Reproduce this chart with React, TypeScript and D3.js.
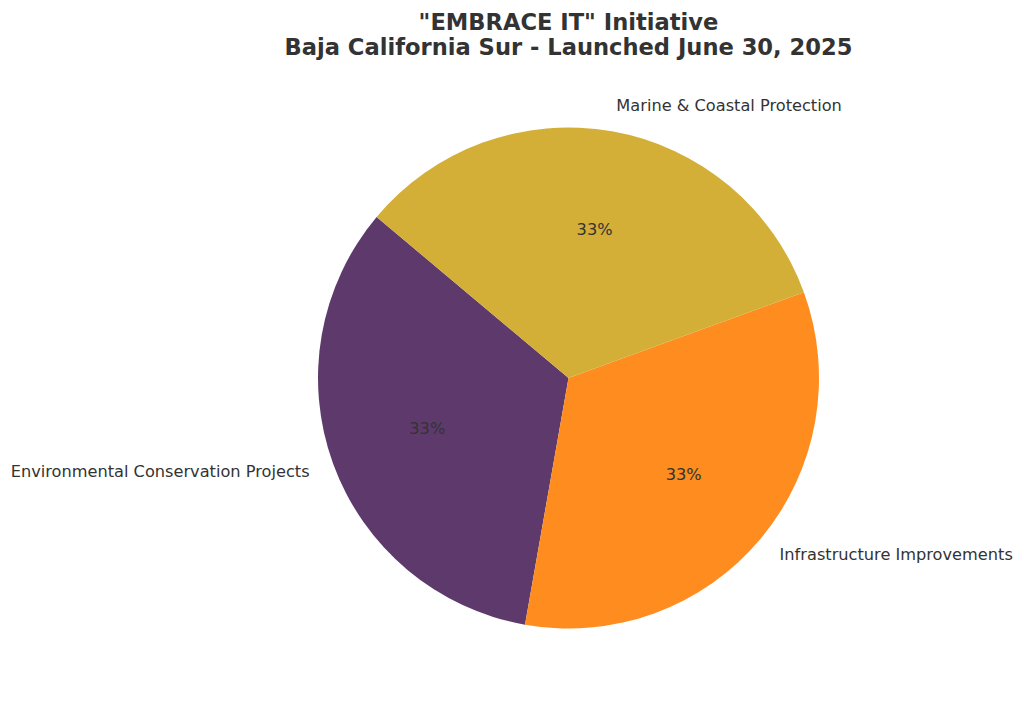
import React, { useEffect } from "react";
import * as d3 from "d3";

const categories = [
  "Environmental Conservation Projects",
  "Infrastructure Improvements",
  "Marine & Coastal Protection",
];
const values = [1, 1, 1];
const colors = ["#5D3A6B", "#FF8C1E", "#D4AF37"];
const titleLines = ['"EMBRACE IT" Initiative', "Baja California Sur - Launched June 30, 2025"];

const W = 1024;
const H = 703;
const cx = 568.5;
const cy = 378;
const R = 250.5;
const startDeg = 140; // matplotlib startangle, counterclockwise

export default function App() {
  useEffect(() => {
    document.body.style.margin = "0";
  }, []);

  const total = d3.sum(values);
  const pie = d3
    .pie<number>()
    .sort(null)
    .value((d) => d)
    .startAngle(((90 - startDeg) * Math.PI) / 180)
    .endAngle(((90 - startDeg - 360) * Math.PI) / 180);
  const arcs = pie(values);
  const arcGen = d3.arc<d3.PieArcDatum<number>>().innerRadius(0).outerRadius(R);
  const font = "'DejaVu Sans', sans-serif";

  return (
    <svg width={W} height={H} style={{ display: "block", background: "#fff" }}>
      <g fontFamily={font} fill="#333333" fontWeight="bold" fontSize={22.6} textAnchor="middle">
        {titleLines.map((t, i) => (
          <text key={i} x={cx} y={29.5 + i * 25}>
            {t}
          </text>
        ))}
      </g>
      <g transform={`translate(${cx},${cy})`}>
        {arcs.map((a, i) => (
          <path key={i} d={arcGen(a) || ""} fill={colors[i]} />
        ))}
        {arcs.map((a, i) => {
          const mid = (a.startAngle + a.endAngle) / 2;
          const lx = 1.1 * R * Math.sin(mid);
          const ly = -1.1 * R * Math.cos(mid);
          const px = 0.6 * R * Math.sin(mid);
          const py = -0.6 * R * Math.cos(mid);
          const pct = Math.round((values[i] / total) * 100) + "%";
          return (
            <g key={"l" + i} fontFamily={font} fontSize={16.2} fill="#333333">
              <text x={lx} y={ly - 1} textAnchor={lx > 0 ? "start" : "end"} dominantBaseline="central">
                {categories[i]}
              </text>
              <text x={px} y={py - 0.5} textAnchor="middle" dominantBaseline="central">
                {pct}
              </text>
            </g>
          );
        })}
      </g>
    </svg>
  );
}
